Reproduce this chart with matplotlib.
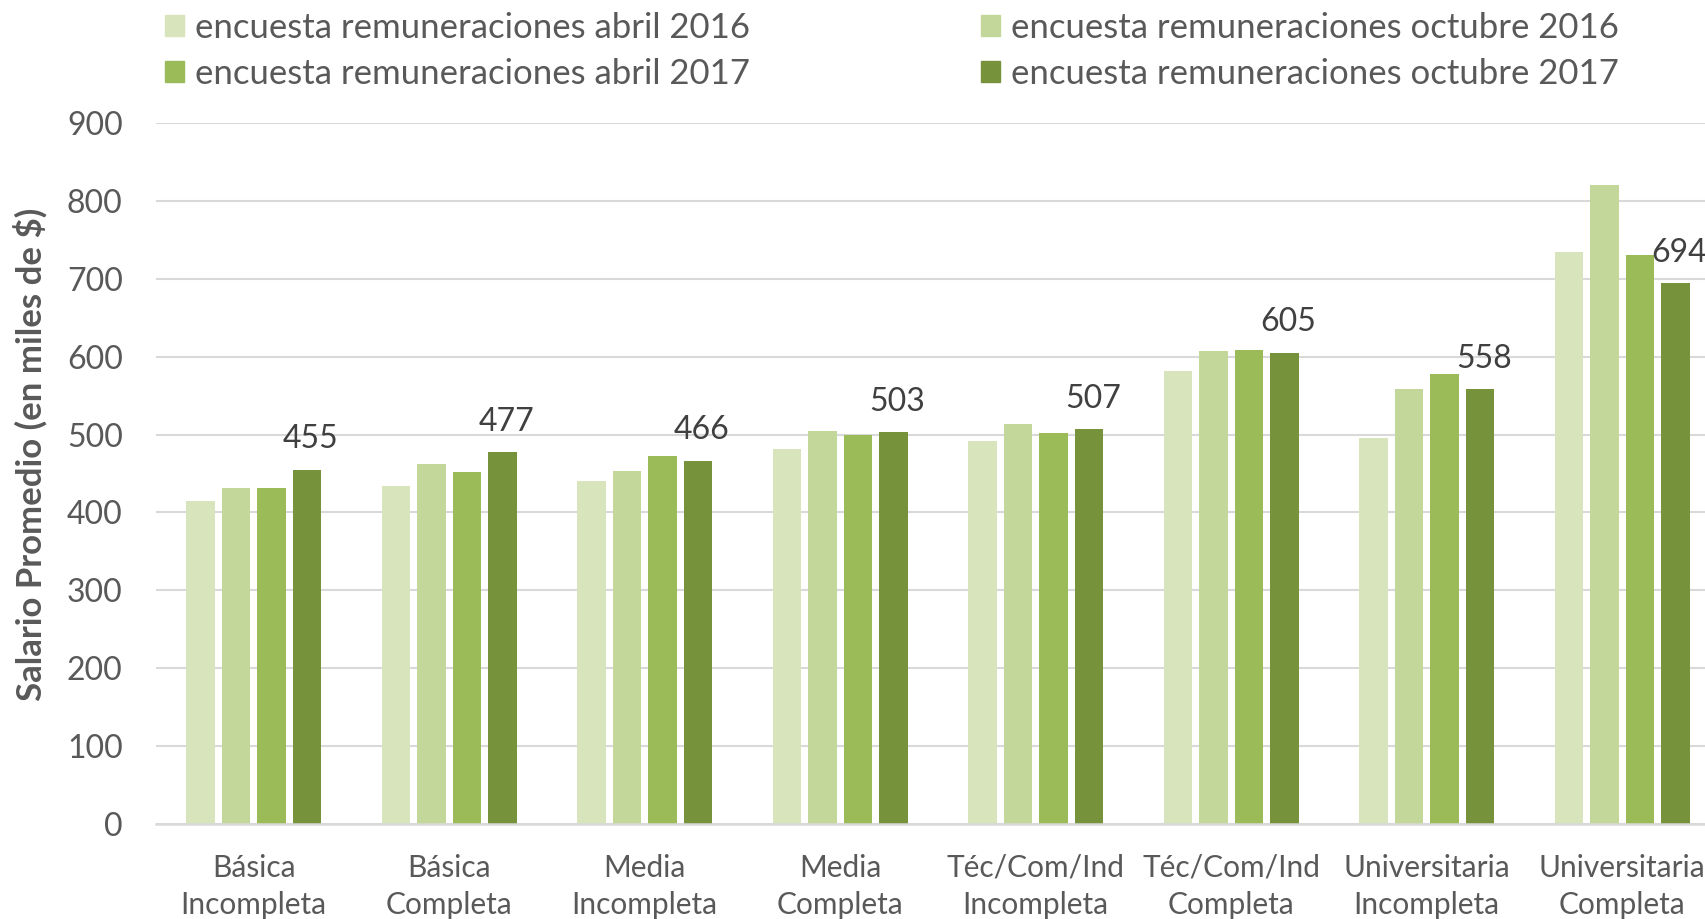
import matplotlib
matplotlib.use("Agg")
import matplotlib.pyplot as plt
from matplotlib.patches import Patch
import numpy as np

categories = ["Básica\nIncompleta", "Básica\nCompleta", "Media\nIncompleta", "Media\nCompleta",
              "Téc/Com/Ind\nIncompleta", "Téc/Com/Ind\nCompleta", "Universitaria\nIncompleta",
              "Universitaria\nCompleta"]
series_names = ["encuesta remuneraciones abril 2016", "encuesta remuneraciones octubre 2016",
                "encuesta remuneraciones abril 2017", "encuesta remuneraciones octubre 2017"]
abril_2016 = [415, 434, 440, 481, 492, 582, 495, 735]
octubre_2016 = [431, 462, 453, 505, 513, 607, 558, 820]
abril_2017 = [431, 452, 473, 500, 502, 608, 578, 731]
octubre_2017 = [455, 477, 466, 503, 507, 605, 558, 694]
colors = ["#D8E4BC", "#C4D79B", "#9BBB59", "#76933C"]

plt.rcParams['font.family'] = ['Lato', 'DejaVu Sans']

fig = plt.figure(figsize=(17.05, 9.19), dpi=100)
ax = fig.add_axes([156 / 1705, 1 - 824 / 919, 1564 / 1705, 701 / 919])

x = np.arange(len(categories))
step = 0.181
width = 0.145
all_series = [abril_2016, octubre_2016, abril_2017, octubre_2017]
for i, vals in enumerate(all_series):
    ax.bar(x + (i - 1.5) * step, vals, width=width, color=colors[i], zorder=3)

# labels only on the last series
for xi, v in zip(x + 1.5 * step, octubre_2017):
    ax.annotate(str(v), (xi, v), xytext=(3, 22), textcoords='offset points',
                ha='center', va='center', fontsize=23, color='#404040', zorder=4)

ax.set_xlim(-0.5, len(categories) - 0.5)
ax.set_ylim(0, 900)
ax.set_yticks(range(0, 901, 100))
ax.yaxis.grid(True, color='#D9D9D9', linewidth=1.5, zorder=0)
ax.set_axisbelow(True)
for s in ['top', 'right', 'left']:
    ax.spines[s].set_visible(False)
ax.spines['bottom'].set_color('#D9D9D9')
ax.spines['bottom'].set_linewidth(1.8)
ax.spines['bottom'].set_zorder(5)

ax.set_xticks(x)
ax.set_xticklabels(categories, fontsize=21.5, color='#595959', linespacing=1.4)
ax.tick_params(axis='x', length=0, pad=21.5)
ax.tick_params(axis='y', length=0, pad=24, labelsize=23, labelcolor='#595959')

# y title sits a bit above the axes centre, like the original
fig.text(30.5 / 1705, 1 - 454 / 919, "Salario Promedio (en miles de $)", rotation=90,
         ha='center', va='center', fontsize=25, fontweight='bold', color='#595959')

handles = [Patch(color=c) for c in colors]
leg_kw = dict(frameon=False, fontsize=25, handlelength=0.55, handleheight=0.55,
              handletextpad=0.3, labelspacing=0.4, labelcolor='#595959',
              borderpad=0, borderaxespad=0)
leg1 = fig.legend([handles[0], handles[2]], [series_names[0], series_names[2]],
                  loc='upper left', bbox_to_anchor=(165 / 1705, 1 - 12 / 919), **leg_kw)
leg2 = fig.legend([handles[1], handles[3]], [series_names[1], series_names[3]],
                  loc='upper left', bbox_to_anchor=(981 / 1705, 1 - 12 / 919), **leg_kw)

fig.savefig("out.png", dpi=100)
